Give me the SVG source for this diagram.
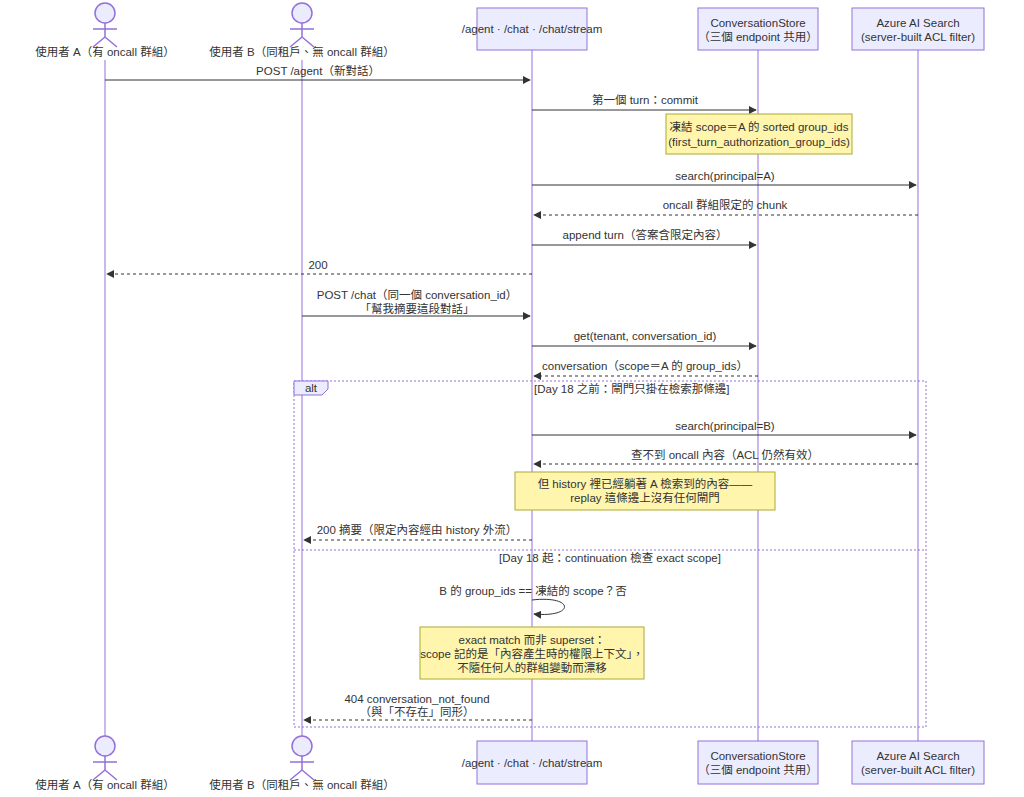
<svg xmlns="http://www.w3.org/2000/svg" width="1024" height="797" viewBox="0 0 1024 797">
<style>
text{font-family:"Liberation Sans","Noto Sans CJK TC",sans-serif;font-size:11.5px;fill:#333;text-anchor:middle}
.box{fill:#ECECFF;stroke:#9370DB;stroke-width:1}
.life{stroke:#9370DB;stroke-width:1}
.actor{fill:#ECECFF;stroke:#9370DB;stroke-width:1.5}
.m{stroke:#333;stroke-width:1;fill:none}
.d{stroke-dasharray:3,3}
.note{fill:#FFF5AD;stroke:#AAAA33}
.frame{fill:none;stroke:#9370DB;stroke-dasharray:2,2}
</style>
<defs>
<marker id="ah" viewBox="0 0 10 10" refX="9" refY="5" markerWidth="8" markerHeight="8" orient="auto"><path d="M0,0L10,5L0,10z" fill="#333"/></marker>
<g id="act"><circle cx="0" cy="0" r="10" class="actor"/><path d="M0,10V24M-12,16H12M0,24L-12,34M0,24L12,34" class="actor" fill="none"/></g>
</defs>
<g id="lifelines">
<line x1="105" y1="60" x2="105" y2="736" class="life"/>
<line x1="302" y1="60" x2="302" y2="736" class="life"/>
<line x1="532" y1="50" x2="532" y2="741" class="life"/>
<line x1="758" y1="50" x2="758" y2="741" class="life"/>
<line x1="918" y1="50" x2="918" y2="741" class="life"/>
</g>
<g id="actorA"><use href="#act" x="105" y="13"/><text x="105" y="56">使用者 A（有 oncall 群組）</text><use href="#act" x="105" y="746"/><text x="105" y="789">使用者 A（有 oncall 群組）</text></g>
<g id="actorB"><use href="#act" x="302" y="13"/><text x="302" y="56">使用者 B（同租戶、無 oncall 群組）</text><use href="#act" x="302" y="746"/><text x="302" y="789">使用者 B（同租戶、無 oncall 群組）</text></g>
<g id="agent"><rect x="477" y="8" width="110" height="42" class="box"/><text x="532" y="33">/agent · /chat · /chat/stream</text><rect x="477" y="741" width="110" height="43" class="box"/><text x="532" y="767">/agent · /chat · /chat/stream</text></g>
<g id="store"><rect x="698" y="8" width="120" height="42" class="box"/><text x="758" y="27">ConversationStore</text><text x="758" y="41">（三個 endpoint 共用）</text><rect x="698" y="741" width="120" height="43" class="box"/><text x="758" y="760">ConversationStore</text><text x="758" y="774">（三個 endpoint 共用）</text></g>
<g id="search"><rect x="852" y="8" width="132" height="42" class="box"/><text x="918" y="27">Azure AI Search</text><text x="918" y="41">(server-built ACL filter)</text><rect x="852" y="741" width="132" height="43" class="box"/><text x="918" y="760">Azure AI Search</text><text x="918" y="774">(server-built ACL filter)</text></g>
<g id="alt">
<rect x="294" y="381" width="632" height="346" class="frame"/>
<path d="M294,381H328V389L322,395H294Z" fill="#ECECFF" stroke="#9370DB"/>
<text x="311" y="392">alt</text>
<text x="534" y="393" style="text-anchor:start">[Day 18 之前：閘門只掛在檢索那條邊]</text>
<line x1="294" y1="550" x2="926" y2="550" class="frame"/>
<text x="610" y="562">[Day 18 起：continuation 檢查 exact scope]</text>
</g>
<g id="connectors">
<text x="318" y="75">POST /agent（新對話）</text><line x1="105" y1="80" x2="530" y2="80" class="m" marker-end="url(#ah)"/>
<text x="645" y="104">第一個 turn：commit</text><line x1="532" y1="110" x2="756" y2="110" class="m" marker-end="url(#ah)"/>
<text x="725" y="180">search(principal=A)</text><line x1="532" y1="185" x2="916" y2="185" class="m" marker-end="url(#ah)"/>
<text x="725" y="209">oncall 群組限定的 chunk</text><line x1="918" y1="215" x2="534" y2="215" class="m d" marker-end="url(#ah)"/>
<text x="645" y="239">append turn（答案含限定內容）</text><line x1="532" y1="245" x2="756" y2="245" class="m" marker-end="url(#ah)"/>
<text x="318" y="269">200</text><line x1="532" y1="274" x2="107" y2="274" class="m d" marker-end="url(#ah)"/>
<text x="417" y="299">POST /chat（同一個 conversation_id）</text><text x="417" y="313">「幫我摘要這段對話」</text><line x1="302" y1="316" x2="530" y2="316" class="m" marker-end="url(#ah)"/>
<text x="645" y="340">get(tenant, conversation_id)</text><line x1="532" y1="346" x2="756" y2="346" class="m" marker-end="url(#ah)"/>
<text x="645" y="370">conversation（scope＝A 的 group_ids）</text><line x1="758" y1="376" x2="534" y2="376" class="m d" marker-end="url(#ah)"/>
<text x="725" y="430">search(principal=B)</text><line x1="532" y1="435" x2="916" y2="435" class="m" marker-end="url(#ah)"/>
<text x="725" y="459">查不到 oncall 內容（ACL 仍然有效）</text><line x1="918" y1="464" x2="534" y2="464" class="m d" marker-end="url(#ah)"/>
<text x="417" y="534">200 摘要（限定內容經由 history 外流）</text><line x1="532" y1="540" x2="304" y2="540" class="m d" marker-end="url(#ah)"/>
<text x="533" y="595">B 的 group_ids == 凍結的 scope？否</text><path d="M532,600C575,595 575,618 534,614" class="m" marker-end="url(#ah)"/>
<text x="417" y="703">404 conversation_not_found</text><text x="417" y="716">（與「不存在」同形）</text><line x1="532" y1="720" x2="304" y2="720" class="m d" marker-end="url(#ah)"/>
</g>
<g id="note1"><rect x="666" y="114" width="186" height="40" class="note"/><text x="759" y="131">凍結 scope＝A 的 sorted group_ids</text><text x="759" y="146">(first_turn_authorization_group_ids)</text></g>
<g id="note2"><rect x="515" y="472" width="260" height="38" class="note"/><text x="645" y="488">但 history 裡已經躺著 A 檢索到的內容——</text><text x="645" y="502">replay 這條邊上沒有任何閘門</text></g>
<g id="note3"><rect x="420" y="627" width="224" height="52" class="note"/><text x="532" y="644">exact match 而非 superset：</text><text x="532" y="658">scope 記的是「內容產生時的權限上下文」，</text><text x="532" y="672">不隨任何人的群組變動而漂移</text></g>
</svg>
